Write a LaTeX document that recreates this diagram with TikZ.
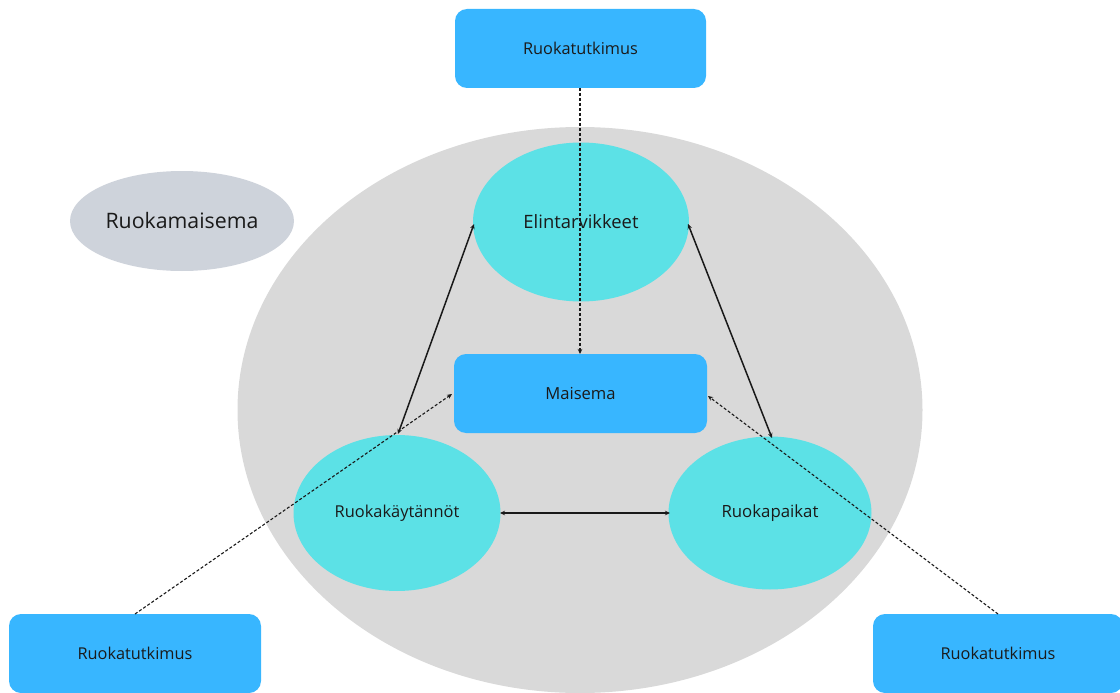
\documentclass[tikz,border=0pt]{standalone}
\usepackage{fontspec}
\setmainfont{Open Sans}
\usetikzlibrary{shapes.geometric,arrows.meta}
\definecolor{boxblue}{HTML}{38B6FF}
\definecolor{cyanell}{HTML}{5CE1E6}
\definecolor{biggray}{HTML}{D9D9D9}
\definecolor{labgray}{HTML}{CED3DB}
\definecolor{txt}{HTML}{1A1A1A}
\begin{document}
\begin{tikzpicture}[x=1pt,y=-1pt,
  boxnode/.style={draw=none,fill=boxblue,rounded corners=12pt,minimum width=252pt,minimum height=79pt,inner sep=0pt,text=txt,font=\fontsize{16.3}{19}\selectfont},
  ellnode/.style={ellipse,fill=cyanell,inner sep=0pt,text=txt,font=\fontsize{16.4}{19}\selectfont},
  solidarr/.style={{Stealth[length=5pt,width=4.5pt]}-{Stealth[length=5pt,width=4.5pt]},line width=1.5pt,black!90},
  dasharr/.style={-{Stealth[length=5pt,width=4.5pt]},dash pattern=on 3pt off 2pt,line width=1.1pt,black!90}]
\useasboundingbox (0,0) rectangle (1120,693);
\begin{scope}
\clip (0,0) rectangle (1120,693);
\node[ellipse,fill=biggray,minimum width=685pt,minimum height=566pt,inner sep=0pt] (big) at (580,410) {};
\node[ellipse,fill=labgray,minimum width=224pt,minimum height=100pt,inner sep=0pt,text=txt,font=\fontsize{21.3}{25}\selectfont] (rm) at (182,221) {Ruokamaisema};
\node[ellnode,minimum width=216pt,minimum height=159pt,font=\fontsize{18.4}{21}\selectfont] (el) at (581,222) {Elintarvikkeet};
\node[ellnode,minimum width=207pt,minimum height=156pt] (rk) at (397,513) {Ruokakäytännöt};
\node[ellnode,minimum width=203pt,minimum height=153pt,font=\fontsize{16.8}{19}\selectfont] (rp) at (770,513) {Ruokapaikat};
\node[boxnode,minimum width=253pt,font=\fontsize{16.6}{19}\selectfont] (ma) at (580.5,393.5) {Maisema};
\node[boxnode,minimum width=251pt] (rt1) at (580.5,48.5) {Ruokatutkimus};
\node[boxnode] (rt2) at (135,653.5) {Ruokatutkimus};
\node[boxnode,minimum width=250pt] (rt3) at (998,653.5) {Ruokatutkimus};
\coordinate (a1) at (474,224);
\coordinate (a2) at (398,434);
\coordinate (b1) at (688,224);
\coordinate (b2) at (772,438);
\coordinate (c1) at (500,513);
\coordinate (c2) at (670,513);
\coordinate (d1) at (580,88);
\coordinate (d2) at (580,354);
\coordinate (e1) at (135,614);
\coordinate (e2) at (452,394);
\coordinate (f1) at (998,614);
\coordinate (f2) at (708,396);
\draw[solidarr] (a2) -- (a1);
\draw[solidarr] (b1) -- (b2);
\draw[solidarr] (c1) -- (c2);
\draw[dasharr] (d1) -- (d2);
\draw[dasharr] (e1) -- (e2);
\draw[dasharr] (f1) -- (f2);
\end{scope}
\end{tikzpicture}
\end{document}
